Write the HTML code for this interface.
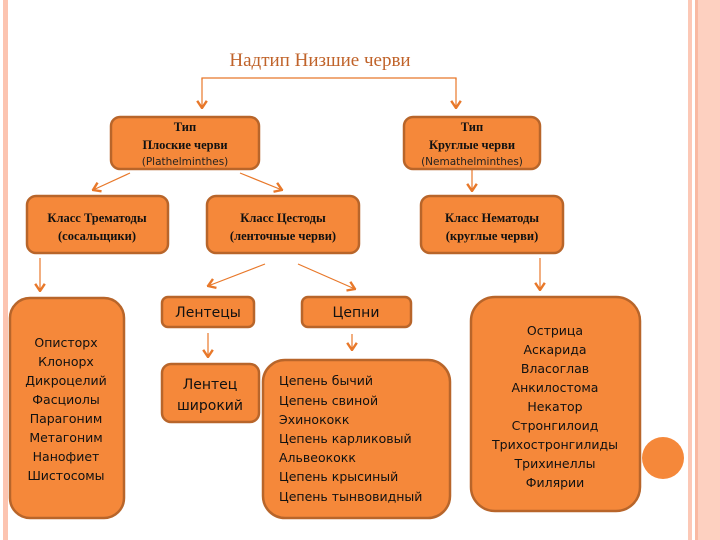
<!DOCTYPE html>
<html><head><meta charset="utf-8"><style>
html,body{margin:0;padding:0;background:#fff;width:720px;height:540px;overflow:hidden}
svg{display:block}
.b{fill:#f5883a;stroke:#b8652a;stroke-width:2.5}
.t{font-family:"Liberation Serif",serif;font-weight:bold;font-size:12.5px;fill:#111;text-anchor:middle}
.s{font-family:"DejaVu Sans","Liberation Sans",sans-serif;font-size:10.5px;fill:#222;text-anchor:middle}
.l{font-family:"DejaVu Sans","Liberation Sans",sans-serif;font-size:12.5px;fill:#111}
.c{text-anchor:middle}
.a{stroke:#e8782a;stroke-width:1.2;fill:none}
</style></head><body>
<svg width="720" height="540" xmlns="http://www.w3.org/2000/svg">
<defs>
<marker id="n" markerWidth="12" markerHeight="12" refX="9" refY="5" orient="auto" markerUnits="userSpaceOnUse" viewBox="0 0 10 10"><path d="M3,1 L9,5 L3,9" fill="none" stroke="#e8782a" stroke-width="2"/></marker></defs>
<rect x="3" y="0" width="5" height="540" fill="#fcc4b0"/>
<rect x="688" y="0" width="4" height="540" fill="#fcc8b6"/>
<rect x="695" y="0" width="3" height="540" fill="#f9b9a2"/>
<rect x="698" y="0" width="22" height="540" fill="#fdd0c0"/>
<circle cx="663" cy="458" r="21" fill="#f5883a"/>
<text x="320" y="66" font-family="Liberation Serif,serif" font-size="19" fill="#c0632a" text-anchor="middle">Надтип Низшие черви</text>
<path class="a" d="M202,80 V78 H456 V80"/>
<line class="a" x1="202" y1="78" x2="202" y2="108" marker-end="url(#n)"/>
<line class="a" x1="456" y1="78" x2="456" y2="108" marker-end="url(#n)"/>
<line class="a" x1="130" y1="173" x2="93" y2="190" marker-end="url(#n)"/>
<line class="a" x1="240" y1="173" x2="282" y2="190" marker-end="url(#n)"/>
<line class="a" x1="472" y1="170" x2="472" y2="191" marker-end="url(#n)"/>
<line class="a" x1="40" y1="258" x2="40" y2="291" marker-end="url(#n)"/>
<line class="a" x1="540" y1="258" x2="540" y2="290" marker-end="url(#n)"/>
<line class="a" x1="265" y1="264" x2="208" y2="286" marker-end="url(#n)"/>
<line class="a" x1="298" y1="264" x2="355" y2="289" marker-end="url(#n)"/>
<line class="a" x1="208" y1="333" x2="208" y2="357" marker-end="url(#n)"/>
<line class="a" x1="352" y1="334" x2="352" y2="350" marker-end="url(#n)"/>

<rect class="b" x="111" y="117" width="148" height="52" rx="9"/>
<text class="t" x="185" y="131">Тип</text><text class="t" x="185" y="149">Плоские черви</text><text class="s" x="185" y="165">(Plathelminthes)</text>
<rect class="b" x="404" y="117" width="136" height="52" rx="9"/>
<text class="t" x="472" y="131">Тип</text><text class="t" x="472" y="149">Круглые черви</text><text class="s" x="472" y="165">(Nemathelminthes)</text>

<rect class="b" x="27" y="196" width="141" height="57" rx="9"/>
<text class="t" x="97" y="222">Класс Трематоды</text><text class="t" x="97" y="240">(сосальщики)</text>
<rect class="b" x="207" y="196" width="152" height="57" rx="9"/>
<text class="t" x="283" y="222">Класс Цестоды</text><text class="t" x="283" y="240">(ленточные черви)</text>
<rect class="b" x="421" y="196" width="142" height="57" rx="9"/>
<text class="t" x="492" y="222">Класс Нематоды</text><text class="t" x="492" y="240">(круглые черви)</text>

<rect class="b" x="10" y="298" width="114" height="220" rx="20"/>
<g class="l c">
<text x="66" y="347">Описторх</text><text x="66" y="366">Клонорх</text><text x="66" y="385">Дикроцелий</text><text x="66" y="404">Фасциолы</text><text x="66" y="423">Парагоним</text><text x="66" y="442">Метагоним</text><text x="66" y="461">Нанофиет</text><text x="66" y="480">Шистосомы</text>
</g>
<rect class="b" x="162" y="297" width="92" height="30" rx="6"/>
<text class="l c" x="208" y="317" style="font-size:14px">Лентецы</text>
<rect class="b" x="302" y="297" width="109" height="30" rx="6"/>
<text class="l c" x="356" y="317" style="font-size:14px">Цепни</text>
<rect class="b" x="162" y="364" width="97" height="58" rx="9"/>
<text class="l c" x="210" y="389" style="font-size:14px">Лентец</text><text class="l c" x="210" y="410" style="font-size:14px">широкий</text>
<rect class="b" x="263" y="360" width="187" height="158" rx="22"/>
<g class="l">
<text x="279" y="385">Цепень бычий</text><text x="279" y="405">Цепень свиной</text><text x="279" y="424">Эхинококк</text><text x="279" y="443">Цепень карликовый</text><text x="279" y="462">Альвеококк</text><text x="279" y="481">Цепень крысиный</text><text x="279" y="501">Цепень тынвовидный</text>
</g>
<rect class="b" x="471" y="297" width="169" height="214" rx="24"/>
<g class="l c">
<text x="555" y="335">Острица</text><text x="555" y="354">Аскарида</text><text x="555" y="373">Власоглав</text><text x="555" y="392">Анкилостома</text><text x="555" y="411">Некатор</text><text x="555" y="430">Стронгилоид</text><text x="555" y="449">Трихостронгилиды</text><text x="555" y="468">Трихинеллы</text><text x="555" y="487">Филярии</text>
</g>
</svg>
</body></html>
